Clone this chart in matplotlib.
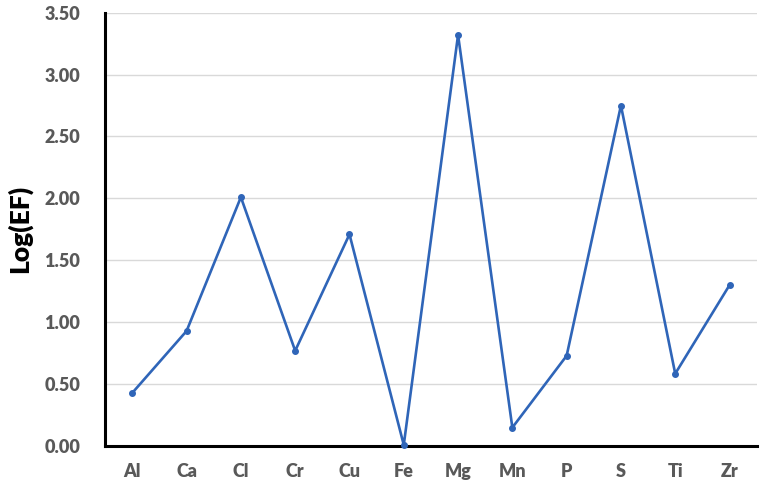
import matplotlib.pyplot as plt
from matplotlib.ticker import FormatStrFormatter

# Enrichment factors (log scale) per element
elements = ["Al", "Ca", "Cl", "Cr", "Cu", "Fe", "Mg", "Mn", "P", "S", "Ti", "Zr"]
log_ef = [0.43, 0.93, 2.01, 0.77, 1.71, 0.01, 3.32, 0.15, 0.73, 2.75, 0.585, 1.30]
y_ticks = [0.0, 0.5, 1.0, 1.5, 2.0, 2.5, 3.0, 3.5]

plt.rcParams['font.family'] = ['Lato', 'DejaVu Sans']

fig = plt.figure(figsize=(7.62, 4.86), dpi=100)
ax = fig.add_axes([0.138, 0.082, 0.855, 0.892])

x = range(len(elements))
ax.plot(x, log_ef, color='#2F65B8', linewidth=1.9, marker='o', markersize=4,
        zorder=3, clip_on=False)

ax.set_xlim(-0.5, len(elements) - 0.5)
ax.set_ylim(0, 3.5)
ax.set_yticks(y_ticks)
ax.yaxis.set_major_formatter(FormatStrFormatter('%.2f'))
ax.set_xticks(list(x))
ax.set_xticklabels(elements)

ax.grid(axis='y', color='#D9D9D9', linewidth=1)
ax.set_axisbelow(True)

for side in ['top', 'right']:
    ax.spines[side].set_visible(False)
for side in ['left', 'bottom']:
    ax.spines[side].set_color('black')
    ax.spines[side].set_linewidth(2.2)

ax.tick_params(axis='both', length=0, labelsize=13, labelcolor='#595959')
ax.tick_params(axis='y', pad=18)
ax.tick_params(axis='x', pad=12)
for lbl in ax.get_xticklabels() + ax.get_yticklabels():
    lbl.set_fontweight('heavy')

ax.set_ylabel('Log(EF)', fontsize=19, fontweight='heavy', color='black', labelpad=9)

fig.savefig('out.png', dpi=100)
